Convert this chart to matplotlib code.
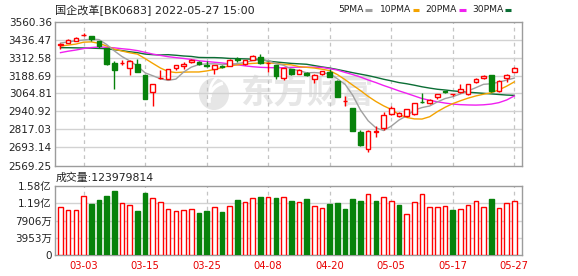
import matplotlib
matplotlib.use("Agg")
import matplotlib.pyplot as plt
from matplotlib.lines import Line2D
from matplotlib.patches import Ellipse, Arc
import numpy as np

plt.rcParams['font.family'] = ['DejaVu Sans', 'Noto Sans CJK SC']

# ---- daily data (2022-02-28 .. 2022-05-27) ----
dates = ['02-28', '03-01', '03-02', '03-03', '03-04', '03-07', '03-08', '03-09', '03-10', '03-11',
         '03-14', '03-15', '03-16', '03-17', '03-18', '03-21', '03-22', '03-23', '03-24', '03-25',
         '03-28', '03-29', '03-30', '03-31', '04-01', '04-06', '04-07', '04-08', '04-11', '04-12',
         '04-13', '04-14', '04-15', '04-18', '04-19', '04-20', '04-21', '04-22', '04-25', '04-26',
         '04-27', '04-28', '04-29', '05-05', '05-06', '05-09', '05-10', '05-11', '05-12', '05-13',
         '05-16', '05-17', '05-18', '05-19', '05-20', '05-23', '05-24', '05-25', '05-26', '05-27']

opens = [3400, 3414, 3428, 3466, 3458, 3423, 3375, 3272, 3272, 3243,
         3266, 3190, 3076, 3170, 3168, 3241, 3252, 3284, 3283, 3260,
         3232, 3254, 3257, 3299, 3266, 3298, 3318, 3272, 3259, 3172,
         3230, 3202, 3206, 3166, 3198, 3213, 3154, 3010, 2965, 2800,
         2680, 2798, 2826, 2921, 2910, 2913, 2923, 3008, 2997, 3038,
         3081, 3058, 3072, 3060, 3145, 3172, 3190, 3079, 3172, 3213]
highs = [3412, 3438, 3452, 3478, 3462, 3429, 3380, 3291, 3297, 3292,
         3300, 3192, 3131, 3225, 3236, 3262, 3282, 3301, 3286, 3286,
         3262, 3262, 3301, 3316, 3298, 3328, 3339, 3282, 3262, 3243,
         3233, 3236, 3216, 3196, 3222, 3236, 3158, 3047, 2967, 2815,
         2815, 2841, 2935, 2978, 2940, 2960, 3000, 3065, 3030, 3060,
         3083, 3064, 3129, 3130, 3170, 3190, 3195, 3157, 3200, 3250]
lows = [3370, 3410, 3425, 3460, 3425, 3380, 3262, 3097, 3262, 3190,
        3210, 3026, 2980, 3166, 3165, 3225, 3236, 3276, 3263, 3247,
        3200, 3240, 3254, 3284, 3262, 3295, 3268, 3214, 3163, 3156,
        3193, 3198, 3186, 3138, 3190, 3175, 3040, 2980, 2808, 2706,
        2660, 2764, 2815, 2918, 2900, 2905, 2918, 3000, 2993, 3025,
        3067, 3045, 3069, 3057, 3140, 3163, 3077, 3077, 3145, 3210]
closes = [3405, 3435, 3449, 3470, 3437, 3389, 3265, 3227, 3277, 3289,
          3213, 3028, 3127, 3174, 3232, 3259, 3270, 3296, 3265, 3256,
          3259, 3247, 3298, 3293, 3295, 3325, 3273, 3276, 3182, 3240,
          3197, 3226, 3190, 3192, 3218, 3180, 3042, 3014, 2810, 2711,
          2809, 2805, 2917, 2962, 2930, 2956, 2997, 3005, 3019, 3058,
          3073, 3061, 3099, 3127, 3168, 3188, 3079, 3154, 3195, 3240]
volumes = [109.3, 103.0, 103.0, 135.0, 116.9, 126.0, 135.0, 146.7, 119.0, 113.8,
           100.8, 142.8, 130.6, 121.4, 105.4, 100.8, 103.0, 105.4, 97.0, 100.8,
           109.3, 99.3, 112.3, 126.0, 122.2, 129.9, 132.9, 132.9, 131.3, 132.9,
           124.4, 121.4, 128.3, 112.3, 107.7, 117.6, 119.0, 105.4, 128.3, 123.7,
           139.8, 123.7, 132.9, 123.7, 114.6, 94.0, 121.4, 139.8, 110.0, 110.0,
           112.3, 103.0, 105.4, 114.6, 123.7, 110.0, 128.3, 107.7, 119.0, 123.979814]  # 百万股

ma5 = [3412, 3420, 3427, 3433, 3439, 3436, 3402, 3358, 3319, 3289,
       3254, 3207, 3187, 3166, 3155, 3164, 3212, 3246, 3264, 3269,
       3269, 3265, 3265, 3271, 3278, 3292, 3296, 3292, 3270, 3259,
       3233, 3223, 3207, 3209, 3205, 3202, 3166, 3128, 3052, 2951,
       2877, 2829, 2810, 2840, 2882, 2911, 2950, 2968, 2979, 3007,
       3030, 3043, 3062, 3083, 3105, 3128, 3132, 3143, 3157, 3171]
ma10 = [3391, 3398, 3405, 3418, 3420, 3410, 3392, 3370, 3357, 3345,
        3336, 3305, 3272, 3240, 3216, 3209, 3212, 3213, 3213, 3220,
        3230, 3243, 3255, 3262, 3268, 3272, 3275, 3275, 3272, 3265,
        3262, 3250, 3245, 3240, 3232, 3222, 3195, 3160, 3122, 3085,
        3045, 3010, 2980, 2955, 2920, 2900, 2890, 2889, 2905, 2940,
        2970, 2995, 3015, 3033, 3048, 3060, 3070, 3090, 3115, 3145]
ma20 = [3346, 3356, 3364, 3374, 3381, 3385, 3383, 3379, 3373, 3368,
        3360, 3348, 3336, 3327, 3318, 3312, 3306, 3299, 3290, 3285,
        3280, 3275, 3268, 3262, 3255, 3249, 3245, 3243, 3242, 3242,
        3245, 3246, 3246, 3246, 3244, 3236, 3226, 3210, 3195, 3178,
        3158, 3140, 3120, 3102, 3083, 3066, 3048, 3030, 3018, 3008,
        2999, 2992, 2988, 2986, 2985, 2987, 2992, 3002, 3020, 3048]
ma30 = [3380, 3380, 3379, 3378, 3377, 3375, 3373, 3366, 3360, 3352,
        3346, 3336, 3332, 3330, 3332, 3328, 3323, 3320, 3313, 3312,
        3312, 3310, 3306, 3305, 3303, 3301, 3299, 3288, 3282, 3277,
        3272, 3269, 3266, 3257, 3248, 3240, 3230, 3219, 3208, 3198,
        3188, 3176, 3163, 3152, 3140, 3132, 3122, 3111, 3102, 3094,
        3089, 3083, 3078, 3074, 3070, 3066, 3062, 3058, 3054, 3052]

price_ticks = [2569.25, 2693.14, 2817.03, 2940.92, 3064.81, 3188.69, 3312.58, 3436.47, 3560.36]
vol_ticks = [0, 39.53, 79.06, 118.59, 158.12]
vol_tick_labels = ['0', '3953万', '7906万', '1.19亿', '1.58亿']
date_ticks = ['03-03', '03-15', '03-25', '04-08', '04-20', '05-05', '05-17', '05-27']

title = '国企改革[BK0683] 2022-05-27 15:00'
vol_title = '成交量:123979814'
ma_names = ['5PMA', '10PMA', '20PMA', '30PMA']

# ---- styling ----
RED = '#ff0000'
GREEN = '#07820b'
MA_COLORS = ['#a0a0a0', '#f4a300', '#f020f0', '#0b6e35']
GRID = '#d2d2d2'
VGRID = '#c4c4c4'
SPINE = '#9c9c9c'
TXT = '#222222'

W, H = 578, 276
fig = plt.figure(figsize=(W / 100, H / 100), dpi=100)


def rect(l, t, r, b):
    return [l / W, 1 - b / H, (r - l) / W, (b - t) / H]


def fx(x):
    return x / W


def fy(y):
    return 1 - y / H


ax_p = fig.add_axes(rect(54.5, 21.5, 522, 165.5))
ax_v = fig.add_axes(rect(54.5, 186, 522, 255))

x = np.arange(len(dates))
o = np.array(opens, float)
h = np.array(highs, float)
l = np.array(lows, float)
c = np.array(closes, float)
v = np.array(volumes, float)

up = c >= o
prev = np.concatenate([[o[0]], c[:-1]])
vol_up = c >= prev

tick_idx = [dates.index(d) for d in date_ticks]

for ax in (ax_p, ax_v):
    ax.set_xlim(-0.78, 60.0)
    for s in ax.spines.values():
        s.set_color(SPINE)
        s.set_linewidth(1.0)
    for t in tick_idx:
        ax.axvline(t, color=VGRID, lw=0.9, ls=(0, (3, 3)), zorder=1)

# ---- price panel ----
ax_p.set_ylim(price_ticks[0], price_ticks[-1])
for yv in price_ticks[1:-1]:
    ax_p.axhline(yv, color=GRID, lw=1.0, zorder=1)
ax_p.set_yticks(price_ticks)
ax_p.set_yticklabels(['%.2f' % t for t in price_ticks])
ax_p.tick_params(axis='y', length=0, pad=2, labelsize=7.5, labelcolor=TXT)
ax_p.set_xticks([])

# watermark logo
ax_p.text(fx(307), fy(94), '东方财富', transform=fig.transFigure, ha='center', va='center',
          fontsize=24, fontweight='bold', color='#e6e6e6', family=['Noto Sans CJK SC'], zorder=0.5)
ax_p.add_patch(Ellipse((fx(214), fy(94)), 30 / W, 32 / H, transform=fig.transFigure,
                       facecolor='#e6e6e6', edgecolor='none', zorder=0.5))
ax_p.add_patch(Arc((fx(226), fy(100)), 34 / W, 34 / H, theta1=95, theta2=200, transform=fig.transFigure,
                   color='white', lw=2.5, zorder=0.6))
ax_p.add_patch(Arc((fx(230), fy(92)), 40 / W, 38 / H, theta1=110, theta2=210, transform=fig.transFigure,
                   color='white', lw=2.0, zorder=0.6))

# moving averages
for vals, col in zip([ma30, ma20, ma10, ma5], MA_COLORS[::-1]):
    ax_p.plot(x, vals, color=col, lw=1.0, zorder=2)

# candlesticks
cols = np.where(up, RED, GREEN)
ax_p.vlines(x, l, h, colors=cols, lw=1.0, zorder=3)
body_lo = np.minimum(o, c)
body_h = np.maximum(np.abs(c - o), 0.5)
ax_p.bar(x, body_h, bottom=body_lo, width=0.6,
         color=np.where(up, 'white', GREEN), edgecolor=cols, linewidth=1.0, zorder=4)

# ---- volume panel ----
ax_v.set_ylim(vol_ticks[0], vol_ticks[-1])
for yv in vol_ticks[1:-1]:
    ax_v.axhline(yv, color=GRID, lw=1.0, zorder=1)
vcols = np.where(vol_up, RED, GREEN)
ax_v.bar(x, v, width=0.6, color=np.where(vol_up, 'white', GREEN),
         edgecolor=vcols, linewidth=1.0, zorder=3)
ax_v.set_yticks(vol_ticks)
ax_v.set_yticklabels(vol_tick_labels)
ax_v.tick_params(axis='y', length=0, pad=2, labelsize=7.5, labelcolor=TXT)
ax_v.set_xticks(tick_idx)
ax_v.set_xticklabels(date_ticks)
ax_v.tick_params(axis='x', length=0, pad=4.5, labelsize=7.2, labelcolor='#e80000')

# ---- header texts ----
fig.text(fx(55), fy(9.5), title, ha='left', va='center', fontsize=8, color=TXT,
         family=['DejaVu Sans', 'Noto Sans CJK SC'])
fig.text(fx(56), fy(177.5), vol_title, ha='left', va='center', fontsize=7.8, color=TXT,
         family=['DejaVu Sans', 'Noto Sans CJK SC'])

# legend
leg_text_x = [338, 380, 425, 472]
leg_line_x = [(365, 372), (413, 419), (459, 466), (505, 511)]
for name, tx, (a, b), col in zip(ma_names, leg_text_x, leg_line_x, MA_COLORS):
    fig.text(fx(tx), fy(9.5), name, ha='left', va='center', fontsize=6.6, color=TXT)
    fig.add_artist(Line2D([fx(a), fx(b)], [fy(9.5), fy(9.5)], color=col, lw=2.2,
                          transform=fig.transFigure, solid_capstyle='butt'))

fig.savefig('out.png', dpi=100)
